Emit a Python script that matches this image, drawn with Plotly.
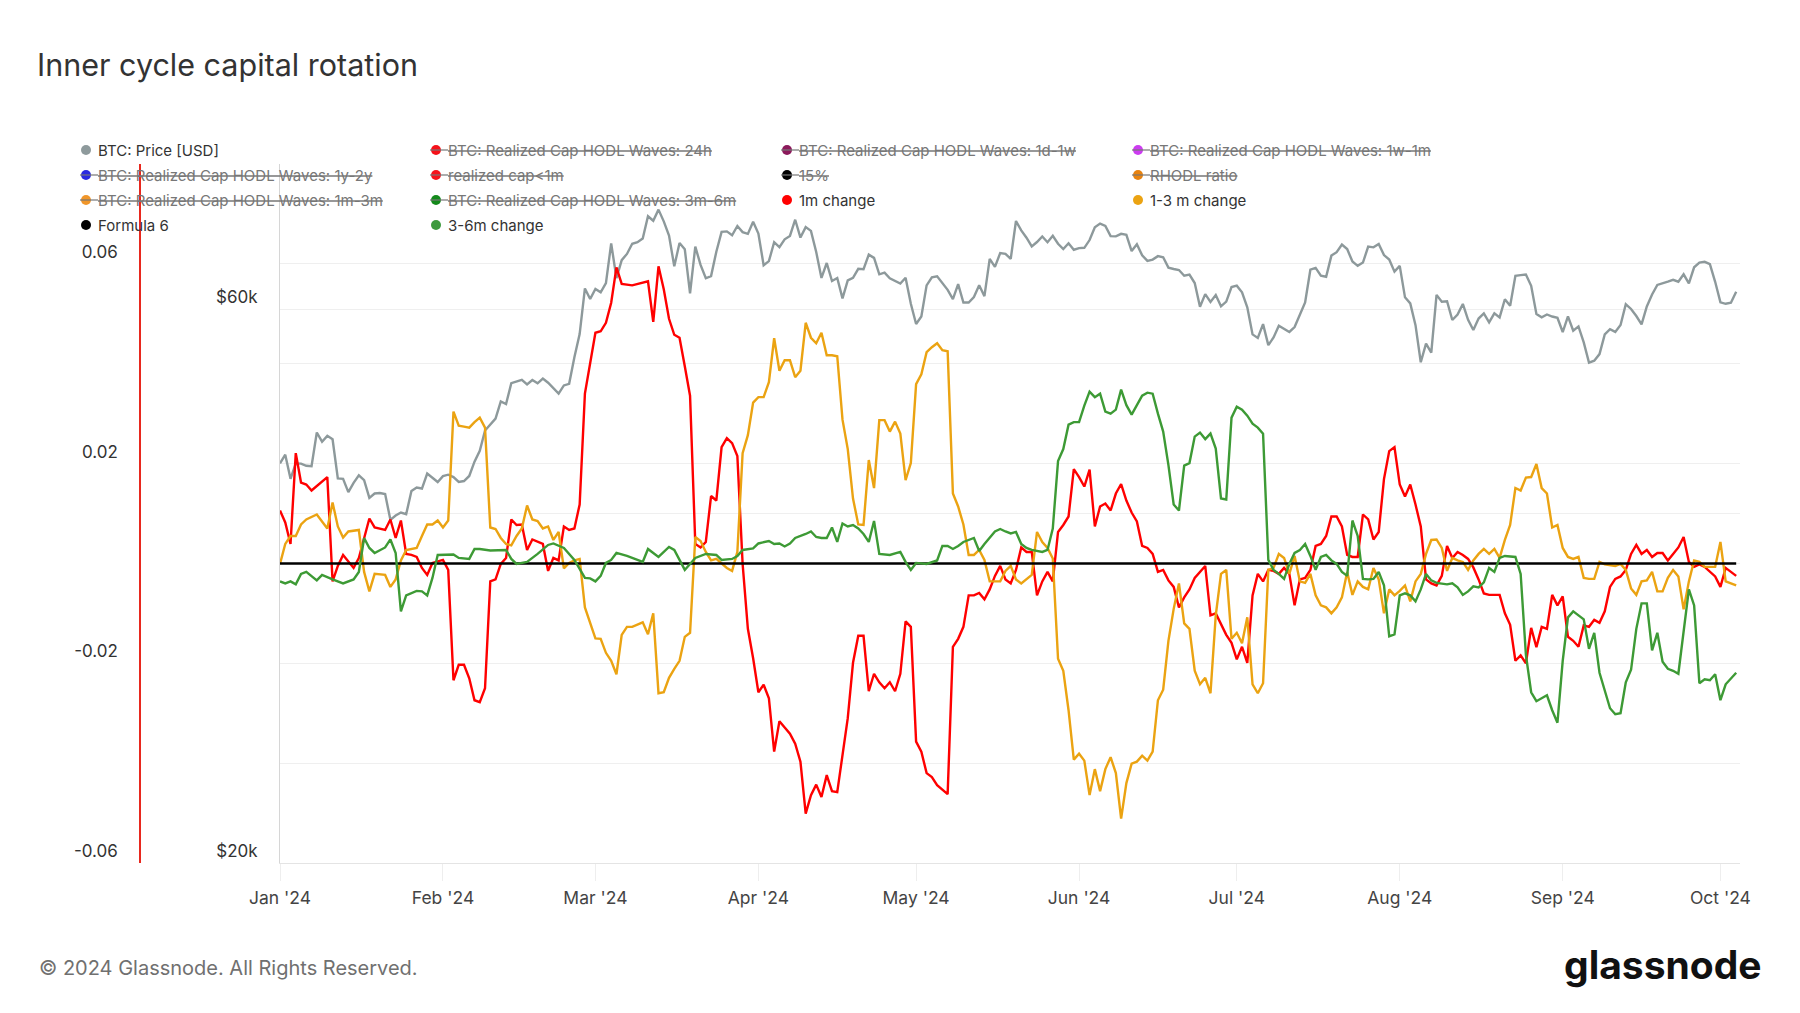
import numpy as np
import pandas as pd
import plotly.graph_objects as go

START = pd.Timestamp("2024-01-01")

# ---------------- data ----------------
btc_price_usd = [
    # Jan
    44180, 44950, 42850, 44180, 44160, 43970, 43930, 46970, 46120, 46660, 46340, 42890, 42840, 41730, 42510, 43150,
    42740, 41260, 41620, 41660, 41570, 39500, 39840, 40080, 39940, 41820, 42120, 42030, 43300, 42950, 42580,
    # Feb
    43080, 43200, 43000, 42580, 42660, 43090, 44330, 45300, 47150, 47770, 48290, 49960, 49700, 51800, 51940, 52140,
    51660, 52120, 51780, 52280, 51840, 51300, 50730, 51570, 51730, 54520, 57090, 62500, 61200,
    # Mar
    62440, 62030, 63170, 68330, 63800, 66110, 66930, 68300, 68500, 69020, 72120, 71480, 73080, 71400, 69400, 65320,
    68390, 67550, 61910, 67910, 65490, 63780, 64060, 67230, 69920, 69990, 69450, 70740, 69890, 69650, 71330,
    # Apr
    69700, 65450, 65980, 68510, 67840, 68900, 69360, 71630, 69140, 70590, 70060, 67190, 63820, 65740, 63430, 63810,
    61280, 63510, 63840, 64990, 64930, 66840, 66410, 64280, 64500, 63770, 63460, 63120, 63840, 60640,
    # May
    58250, 59120, 62890, 63890, 64030, 63160, 62330, 61190, 63050, 60790, 60790, 61450, 62900, 61550, 66270, 65230,
    67050, 66940, 66280, 71450, 70140, 69120, 67930, 68530, 69280, 68500, 69390, 68300, 67580, 68360, 67490,
    # Jun
    67710, 67750, 68800, 70560, 71080, 70760, 69340, 69300, 69650, 69510, 67320, 68240, 66760, 66010, 66190, 66640,
    66490, 65140, 64960, 64830, 64100, 64250, 63180, 60280, 61800, 60860, 61690, 60320, 60890, 62680,
    # Jul
    62850, 62030, 60200, 57060, 56660, 58230, 55860, 56710, 58050, 57720, 57340, 57900, 59230, 60790, 64870, 65100,
    64120, 63970, 66710, 67160, 68190, 67580, 65930, 65370, 65800, 67910, 67810, 68260, 66780, 66190, 64620,
    # Aug
    65360, 61410, 60680, 58120, 53990, 56030, 55030, 61710, 60880, 60940, 58710, 59350, 60610, 58740, 57560, 58880,
    59490, 58430, 59490, 59010, 61180, 60380, 64090, 64180, 64260, 62830, 59420, 59030, 59360, 59120, 58970,
    # Sep
    57330, 59130, 57480, 57970, 56160, 53950, 54160, 54870, 57050, 57650, 57340, 58130, 60570, 60010, 59180, 58210,
    60310, 61760, 62940, 63190, 63350, 63580, 63340, 64280, 63140, 65180, 65790, 65890, 65600, 63330,
    # Oct
    60800, 60630, 60750, 62090,
]

# day index (days since 2024-01-01) and value in thousandths (per-mille)
change_1m_days = [
    0, 1, 2, 3, 4, 5, 6, 9, 10, 11, 12, 13, 14, 15, 17, 18, 19, 20, 21, 22, 23, 24, 25, 26, 27, 28, 29, 31, 32, 33,
    34, 35, 36, 37, 38, 39, 40, 41, 42, 43, 44, 45, 46, 47, 48, 50, 51, 52, 53, 54, 55, 56, 57, 58, 60, 61, 62, 63,
    64, 65, 67, 69, 70, 71, 72, 73, 74, 75, 76, 77, 78, 79, 80, 81, 82, 83, 84, 85, 86, 87, 88, 89, 90, 91, 92, 93,
    94, 95, 96, 97, 98, 99, 100, 101, 102, 103, 104, 105, 106, 107, 108, 109, 110, 111, 112, 113, 114, 115, 116, 117,
    118, 119, 120, 121, 122, 123, 124, 125, 126, 127, 128, 129, 130, 131, 132, 133, 134, 135, 136, 137, 138, 139, 140,
    141, 142, 143, 144, 145, 146, 147, 148, 149, 150, 151, 152, 153, 154, 155, 156, 157, 158, 159, 160, 161, 162, 163,
    164, 165, 166, 167, 168, 169, 170, 171, 172, 173, 174, 175, 176, 177, 178, 180, 181, 182, 183, 184, 185, 186, 187,
    188, 189, 190, 191, 192, 193, 194, 195, 196, 197, 198, 199, 200, 201, 202, 203, 204, 205, 206, 207, 208, 209, 210,
    211, 212, 213, 214, 215, 216, 217, 218, 219, 220, 221, 222, 223, 224, 225, 226, 227, 228, 229, 230, 232, 233, 234,
    235, 236, 237, 238, 239, 240, 241, 242, 243, 244, 245, 246, 247, 248, 249, 250, 251, 252, 253, 254, 255, 256, 257,
    258, 259, 260, 261, 262, 263, 264, 265, 266, 267, 268, 269, 270, 271, 273, 274, 275, 276, 277,
]
change_1m_permille = [
    10.6, 8.2, 3.9, 22.1, 16.2, 15.8, 14.6, 17.3, -3.6, -0.5, 1.7, 0.3, -0.9, 1.1, 9.0, 7.2, 7.0, 6.7, 8.8, 5.1, 8.6,
    1.9, 1.7, 1.3, -0.9, -2.3, 0.1, 0.7, -1.3, -23.4,
    -20.3, -20.3, -23.0, -27.4, -27.8, -25.0, -3.6, -3.2, -0.1, 1.1, 8.8, 7.7, 7.8, 2.7, 4.8, 3.9, -1.5, 1.1, 0.6, 7.4,
    6.7, 7.0, 11.8, 34.0, 46.2, 46.5, 48.2, 52.2,
    59.3, 56.0, 55.7, 56.3, 56.5, 48.4, 59.5, 54.9, 49.0, 45.8, 45.2, 39.5, 33.6, 3.9, 3.2, 4.3, 13.5, 12.6, 23.3, 25.1,
    24.1, 21.5, -0.1, -13.1, -19.0, -25.8, -24.3, -27.0,
    -37.7, -31.6, -32.9, -34.1, -36.1, -39.7, -50.1, -46.4, -44.3, -46.8, -42.4, -45.6, -45.8, -38.1, -31.0, -19.9,
    -14.5, -14.5, -25.6, -22.1, -23.8, -25.0, -23.8, -25.6,
    -22.1, -11.6, -12.7, -35.7, -37.7, -42.0, -42.8, -44.4, -45.4, -46.2, -16.7, -15.1, -12.7, -6.4, -6.4, -5.9, -7.2,
    -5.2, -2.5, -0.5, -3.2, -4.0, -1.3,
    3.2, 2.3, 2.3, -6.4, -3.6, -1.7, -3.6, 6.3, 7.7, 9.4, 18.9, 17.3, 15.4, 18.8, 7.4, 11.4, 12.0, 10.6, 14.0, 15.9,
    12.6, 10.2, 8.4,
    3.5, 3.1, 1.9, -1.7, -1.3, -3.4, -4.7, -8.8, -6.8, -5.2, -2.9, -1.7, -0.5, -10.4, -10.0, -14.3, -15.9, -19.2, -16.7,
    -19.9, -6.4, -2.1, -3.6,
    -1.3, -1.5, -2.1, -0.9, -2.1, -8.4, -3.2, -2.9, -1.3, 3.5, 3.9, 5.5, 9.4, 9.4, 7.4, 1.7, 1.3, 1.3, 9.8, 8.8, 4.8,
    6.3, 16.9,
    22.5, 23.3, 15.8, 13.4, 15.8, 11.8, 7.4, -3.2, -4.0, -4.4, -2.5, 3.5, 1.1, 2.3, 1.7, 0.9, -0.8, -3.2, -6.0, -6.3,
    -6.3, -10.0, -12.3,
    -19.5, -18.4, -20.0, -12.9, -16.8, -12.7, -13.1, -6.3, -8.4, -6.6, -14.7, -15.5, -16.7, -12.4, -12.7, -11.3, -11.9,
    -9.6, -4.7, -3.1, -2.6, -1.3, 1.9,
    3.7, 1.9, 2.7, 1.3, 2.1, 2.1, 0.6, 1.9, 3.2, 5.3, 0.3, -0.7, -0.2, -0.7, -2.6, -4.7, -0.9, -1.7, -2.5,
]

change_1_3m_days = [
    0, 1, 2, 3, 4, 5, 7, 9, 10, 11, 12, 13, 15, 16, 17, 18, 20, 21, 22, 23, 24, 26, 27, 28, 29, 30, 31, 32, 33, 34,
    35, 36, 37, 38, 39, 40, 41, 42, 43, 44, 45, 46, 47, 48, 49, 50, 51, 52, 53, 54, 55, 56, 57, 58, 60, 61, 62, 63,
    64, 65, 66, 67, 69, 70, 71, 72, 73, 74, 75, 76, 77, 78, 79, 80, 81, 82, 83, 84, 85, 86, 87, 88, 89, 90, 91, 92,
    93, 94, 95, 96, 97, 98, 99, 100, 101, 102, 103, 104, 105, 106, 107, 108, 109, 110, 111, 112, 113, 114, 115, 116,
    117, 118, 119, 120, 121, 122, 123, 124, 125, 126, 127, 128, 129, 130, 131, 132, 133, 134, 135, 137, 138, 139, 140,
    141, 142, 143, 144, 145, 146, 147, 148, 149, 150, 151, 152, 153, 154, 155, 156, 157, 158, 159, 160, 161, 162, 163,
    164, 165, 166, 167, 168, 169, 170, 171, 172, 173, 174, 175, 176, 177, 178, 179, 180, 181, 182, 183, 184, 185, 186,
    187, 188, 189, 190, 191, 192, 193, 194, 195, 196, 197, 198, 199, 200, 201, 202, 203, 204, 205, 206, 207, 208, 209,
    210, 211, 212, 213, 214, 215, 216, 217, 218, 219, 220, 221, 222, 223, 224, 225, 226, 227, 228, 229, 230, 231, 232,
    233, 234, 235, 236, 237, 238, 239, 240, 241, 242, 243, 244, 245, 246, 247, 248, 249, 250, 251, 252, 254, 255, 256,
    257, 258, 259, 260, 261, 262, 263, 264, 265, 266, 267, 268, 269, 270, 271, 273, 274, 275, 277,
]
change_1_3m_permille = [
    -0.1, 3.9, 5.5, 5.5, 7.8, 8.8, 9.8, 7.0, 12.2, 7.4, 5.2, 6.4, 6.7, -1.7, -5.6, -2.1, -2.3, -4.7, -3.2, 0.6, 2.7,
    3.1, 5.5, 7.8, 7.8, 8.6, 7.2, 8.6, 30.4, 27.6,
    27.4, 27.2, 28.3, 29.2, 27.2, 7.2, 6.9, 5.1, 3.9, 3.6, 5.5, 7.0, 11.6, 8.8, 8.5, 7.0, 7.4, 4.7, 6.3, -1.0, 0.1, 0.6,
    0.9, -8.8, -15.0, -15.1, -17.9, -19.5,
    -22.2, -14.3, -12.7, -12.7, -11.8, -14.2, -10.0, -26.0, -25.8, -22.9, -21.1, -19.5, -14.7, -13.9, 5.3, 4.5, 2.3,
    0.6, 0.9, -0.1, -0.9, -1.5, 2.3, 22.1, 25.7, 32.2, 33.3, 33.3,
    36.3, 45.1, 38.6, 40.7, 40.7, 37.3, 38.6, 48.2, 45.2, 44.1, 46.2, 41.7, 41.7, 41.5, 28.8, 22.9, 13.0, 7.8, 7.7,
    20.7, 15.1, 28.7, 28.7, 26.4,
    28.4, 26.0, 16.7, 20.1, 35.9, 37.9, 42.3, 43.3, 44.1, 42.7, 42.5, 14.0, 11.4, 7.8, 1.7, 1.7, 2.7, 0.7, -3.6, -3.6,
    -1.5, -0.5, -3.2,
    -4.0, -3.2, -2.3, 6.3, 4.3, 3.1, 1.0, -19.1, -21.5, -29.4, -39.3, -38.1, -39.5, -46.4, -41.2, -45.6, -41.2, -38.8,
    -42.0, -51.1, -44.0, -40.1, -39.7,
    -38.5, -39.5, -37.7, -27.4, -25.3, -15.5, -9.1, -4.0, -12.0, -13.1, -21.5, -24.2, -22.9, -26.0, -10.4, -2.1, -1.3,
    -15.1, -13.9, -16.0, -10.8, -24.2, -26.0,
    -24.0, -1.3, -0.9, 1.9, 1.1, -2.1, 1.5, -3.6, -3.9, -2.1, -6.4, -8.4, -8.8, -10.0, -8.8, -6.8, -1.7, -6.3, -3.6,
    -4.7, -5.2, -0.9, -3.2,
    -10.0, -5.2, -6.4, -5.5, -4.4, -7.6, -3.6, -2.1, 1.9, 4.7, 4.8, 3.1, -1.5, 1.1, 0.6, 0.3, -1.3, 0.6, 1.9, 2.9, 1.9,
    2.9, 1.1,
    4.7, 7.7, 15.1, 14.6, 17.2, 17.3, 19.9, 15.1, 14.0, 7.2, 7.7, 3.1, 1.3, 0.9, 1.3, -2.9, -3.1, -3.1, 0.3, -0.2, -0.5,
    -0.1, -1.3,
    -5.0, -6.3, -3.6, -3.4, -1.7, -5.6, -5.6, -2.9, -1.3, -2.6, -9.2, -3.6, 0.6, 0.3, -0.7, -0.7, 4.3, -3.6, -4.4,
]

change_3_6m_days = [
    0, 1, 2, 3, 4, 5, 7, 8, 10, 12, 14, 15, 16, 17, 18, 20, 21, 22, 23, 24, 26, 27, 28, 29, 30, 31, 33, 34, 36, 37,
    38, 40, 41, 43, 44, 45, 47, 49, 51, 52, 54, 56, 58, 59, 60, 61, 62, 63, 64, 66, 68, 69, 70, 72, 74, 75, 77, 79,
    81, 83, 84, 86, 87, 88, 90, 91, 93, 94, 95, 96, 97, 98, 100, 101, 102, 103, 104, 105, 106, 107, 108, 109, 110,
    111, 112, 113, 114, 116, 118, 119, 120, 121, 123, 125, 126, 127, 128, 129, 130, 132, 133, 134, 136, 137, 138,
    139, 140, 141, 142, 143, 145, 146, 147, 148, 149, 150, 151, 152, 153, 154, 155, 156, 157, 158, 159, 160, 161, 162,
    163, 164, 165, 166, 167, 168, 169, 170, 171, 172, 173, 174, 175, 176, 177, 178, 179, 180, 181, 182, 183, 184, 185,
    186, 187, 188, 189, 190, 191, 192, 193, 194, 195, 196, 197, 198, 199, 200, 201, 202, 203, 204, 205, 206, 207, 208,
    209, 210, 211, 212, 213, 214, 215, 216, 217, 218, 219, 220, 222, 223, 224, 225, 226, 227, 228, 229, 230, 231, 232,
    233, 235, 236, 237, 238, 239, 241, 242, 243, 244, 245, 246, 248, 249, 250, 251, 252, 253, 254, 255, 256, 257, 258,
    259, 260, 261, 262, 263, 264, 265, 266, 267, 268, 269, 270, 271, 272, 273, 274, 275, 277,
]
change_3_6m_permille = [
    -3.6, -4.0, -3.6, -4.2, -2.1, -1.7, -3.4, -2.3, -3.2, -4.0, -3.2, -1.7, 5.1, 3.1, 2.1, 3.2, 4.8, 2.1, -9.6, -6.4,
    -5.5, -5.6, -6.4, -2.9, 1.7, 1.7, 1.8, 1.1, 0.9, 2.9,
    2.9, 2.6, 2.6, 2.7, 0.9, -0.1, 0.3, 1.9, 3.7, 4.0, 3.1, 0.7, -2.9, -3.0, -3.6, -2.5, 0.1, 0.7, 2.1, 1.5, 0.7, 0.3,
    2.9, 1.3, 3.3, 2.7, -1.3, 1.1,
    1.9, 1.7, 0.7, 0.9, 1.5, 2.7, 3.0, 4.0, 4.5, 3.9, 4.0, 3.4, 4.0, 5.1, 5.9, 6.4, 5.3, 5.1, 5.1, 7.2, 4.3, 8.0, 7.4,
    7.7, 7.0,
    5.9, 4.3, 8.5, 1.9, 1.7, 2.3, 0.3, -1.3, 0.1, -0.1, 0.6, 3.5, 3.5, 2.9, 3.5, 4.3, 5.1, 2.5, 3.9, 6.4, 6.9, 6.4,
    6.0, 6.3, 3.9, 3.1, 2.7, 2.3, 2.7, 7.0, 20.5, 22.9, 27.8, 28.3, 28.3, 31.6, 34.4, 33.3, 34.0, 30.4, 30.0, 30.8,
    34.8, 31.7, 29.8,
    31.7, 33.6, 34.2, 34.0, 30.0, 26.4, 19.7, 11.8, 10.6, 19.6, 20.1, 25.4, 26.2, 24.9, 26.0, 23.0, 13.0, 12.8, 29.2,
    31.4, 30.8, 29.6, 28.0,
    27.2, 26.0, 0.7, -1.3, -2.1, -3.1, -0.1, 2.1, 2.7, 3.9, 1.5, -1.3, 1.3, 1.7, 0.6, -0.1, -1.7, -2.5, 8.6, 5.5, -3.1,
    -3.2, -3.1,
    -1.7, -4.4, -14.6, -14.2, -6.4, -6.0, -6.4, -7.6, -5.2, -2.1, -3.4, -3.9, -4.2, -4.0, -4.8, -6.3, -5.6, -4.6, -4.8,
    -3.8, -0.9, -1.7, 1.1,
    1.5, 1.3, -2.1, -18.3, -25.8, -27.6, -26.4, -29.4, -31.9, -19.5, -10.8, -9.6, -11.2, -17.1, -13.9, -21.9, -25.4,
    -29.0, -30.2, -30.0, -23.8, -21.3, -13.1,
    -8.0, -8.0, -17.4, -13.9, -19.7, -21.1, -21.5, -22.1, -13.5, -5.2, -8.4, -24.0, -23.2, -23.4, -22.2, -27.4, -24.2,
    -21.9,
]

formula_6_value = 0.0

y_left_ticks = [-0.06, -0.04, -0.02, 0.0, 0.02, 0.04, 0.06, 0.08]
y_left_labels = ["-0.06", "", "-0.02", "", "0.02", "", "0.06", ""]
price_ticks = [20000, 40000, 60000, 80000]
price_labels = ["$20k", "", "$60k", ""]

legend_rows = [
    [("BTC: Price [USD]", "#8e9a9c", False),
     ("BTC: Realized Cap HODL Waves: 24h", "#f5121a", True),
     ("BTC: Realized Cap HODL Waves: 1d-1w", "#8c1a5c", True),
     ("BTC: Realized Cap HODL Waves: 1w-1m", "#cc3cf0", True)],
    [("BTC: Realized Cap HODL Waves: 1y-2y", "#2a2ae0", True),
     ("realized cap<1m", "#f5121a", True),
     ("15%", "#000000", True),
     ("RHODL ratio", "#e8820e", True)],
    [("BTC: Realized Cap HODL Waves: 1m-3m", "#f0962a", True),
     ("BTC: Realized Cap HODL Waves: 3m-6m", "#148a1c", True),
     ("1m change", "#ff0000", False),
     ("1-3 m change", "#eba312", False)],
    [("Formula 6", "#000000", False),
     ("3-6m change", "#3d9a3d", False)],
]

# ---------------- figure ----------------
W, H = 1800, 1013
PLOT_L, PLOT_R, PLOT_T, PLOT_B = 280, 1740, 164, 863


def px_x(p):
    return p / W


def px_y(p):
    return 1 - p / H


def to_dates(days):
    return START + pd.to_timedelta(np.array(days), unit="D")


price_dates = pd.date_range(START, periods=len(btc_price_usd), freq="D")

PRICE_C = "#8d999b"
RED_C = "#ff0000"
ORANGE_C = "#eba312"
GREEN_C = "#3d9a35"

fig = go.Figure()
fig.add_trace(go.Scatter(x=price_dates, y=btc_price_usd, name="BTC: Price [USD]", mode="lines",
                         line=dict(color=PRICE_C, width=2.4), yaxis="y", showlegend=False))
fig.add_trace(go.Scatter(x=to_dates(change_1m_days), y=np.array(change_1m_permille) / 1000.0,
                         name="1m change", mode="lines", line=dict(color=RED_C, width=2.4),
                         yaxis="y2", showlegend=False))
fig.add_trace(go.Scatter(x=to_dates(change_1_3m_days), y=np.array(change_1_3m_permille) / 1000.0,
                         name="1-3 m change", mode="lines", line=dict(color=ORANGE_C, width=2.4),
                         yaxis="y2", showlegend=False))
fig.add_trace(go.Scatter(x=price_dates, y=[formula_6_value] * len(price_dates),
                         name="Formula 6", mode="lines", line=dict(color="#000000", width=2.6),
                         yaxis="y2", showlegend=False))
fig.add_trace(go.Scatter(x=to_dates(change_3_6m_days), y=np.array(change_3_6m_permille) / 1000.0,
                         name="3-6m change", mode="lines", line=dict(color=GREEN_C, width=2.4),
                         yaxis="y2", showlegend=False))

FONT = "Inter, Roboto, 'Noto Sans', sans-serif"
GRID = "#efefef"

x_end = START + pd.Timedelta(days=(PLOT_R - PLOT_L) / 5.257)

fig.update_layout(
    width=W, height=H, autosize=False,
    margin=dict(l=0, r=0, t=0, b=0, pad=0, autoexpand=False),
    paper_bgcolor="white", plot_bgcolor="white",
    font=dict(family=FONT, color="#333333"),
    title=dict(text="Inner cycle capital rotation", xref="container", yref="container",
               x=px_x(37), xanchor="left", y=px_y(65), yanchor="middle",
               font=dict(size=30.5, color="#333333", family=FONT)),
    xaxis=dict(
        domain=[px_x(PLOT_L), px_x(PLOT_R)], anchor="y", type="date",
        range=[START, x_end],
        dtick="M1", tick0="2024-01-01", tickformat="%b '%y",
        ticks="outside", ticklen=17, tickcolor="#eeeeee", tickwidth=1,
        showgrid=False, zeroline=False, automargin=False,
        showline=True, linecolor="#e4e4e4", linewidth=1,
        tickfont=dict(size=17.5, color="#444444", family=FONT),
        ticklabelstandoff=2,
    ),
    yaxis=dict(
        domain=[px_y(PLOT_B), px_y(PLOT_T)], type="log",
        range=[np.log10(20000), np.log10(80000)],
        tickvals=price_ticks, ticktext=price_labels,
        showgrid=True, gridcolor=GRID, gridwidth=1, zeroline=False, automargin=False,
        showline=True, linecolor="#d6d6d6", linewidth=1,
        ticks="", ticklabelposition="outside top", ticklabelstandoff=18,
        tickfont=dict(size=17, color="#333333", family=FONT),
    ),
    yaxis2=dict(
        overlaying="y", anchor="free", position=px_x(140), side="left",
        range=[-0.06, 0.08],
        tickvals=y_left_ticks, ticktext=y_left_labels,
        showgrid=True, gridcolor=GRID, gridwidth=1, zeroline=False, automargin=False,
        showline=True, linecolor="#e8281e", linewidth=1.6,
        ticks="", ticklabelposition="outside top", ticklabelstandoff=18,
        tickfont=dict(size=17, color="#333333", family=FONT),
    ),
    showlegend=False,
)

# ---------------- manual legend ----------------
col_x = [86, 436, 787, 1138]
row_y = [150, 175, 200, 225]
shapes = []
annotations = []
for r, row in enumerate(legend_rows):
    for c, (label, color, struck) in enumerate(row):
        cx, cy = col_x[c], row_y[r]
        shapes.append(dict(type="circle", xref="paper", yref="paper",
                           x0=px_x(cx - 5), x1=px_x(cx + 5), y0=px_y(cy + 5), y1=px_y(cy - 5),
                           fillcolor=color, line=dict(width=0)))
        if struck:
            shapes.append(dict(type="line", xref="paper", yref="paper",
                               x0=px_x(cx - 6), x1=px_x(cx + 12), y0=px_y(cy), y1=px_y(cy),
                               line=dict(color="#777777", width=1.2)))
            text = f"<s>{label}</s>"
            tcolor = "#777777"
        else:
            text = label
            tcolor = "#333333"
        annotations.append(dict(text=text, xref="paper", yref="paper", x=px_x(cx + 10), y=px_y(cy),
                                xanchor="left", yanchor="middle", showarrow=False,
                                font=dict(size=15, color=tcolor, family=FONT)))

annotations.append(dict(text="© 2024 Glassnode. All Rights Reserved.", xref="paper", yref="paper",
                        x=px_x(37), y=px_y(968), xanchor="left", yanchor="middle", showarrow=False,
                        font=dict(size=20, color="#707070", family=FONT)))
annotations.append(dict(text="<b>glassnode</b>", xref="paper", yref="paper",
                        x=px_x(1764), y=px_y(964), xanchor="right", yanchor="middle", showarrow=False,
                        font=dict(size=39, color="#111111", family=FONT)))

fig.update_layout(shapes=shapes, annotations=annotations)

fig.write_html("out.html",
               config={"displayModeBar": False},
               post_script="document.body.style.margin='0';document.body.style.overflow='hidden';")
